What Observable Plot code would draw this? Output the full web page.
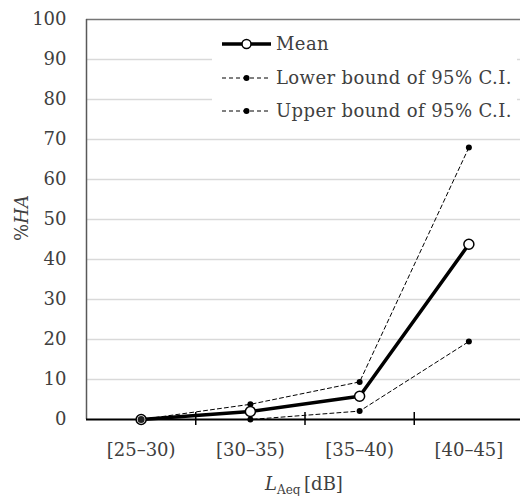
<!DOCTYPE html>
<html>
<head>
<meta charset="utf-8">
<script src="https://cdn.jsdelivr.net/npm/d3@7"></script>
<script src="https://cdn.jsdelivr.net/npm/@observablehq/plot@0.6"></script>
<style>
  html, body { margin: 0; padding: 0; background: #fff; overflow: hidden; }
  #chart { width: 520px; height: 496px; }
</style>
</head>
<body>
<div id="chart"></div>
<script>
const categories = ["[25\u201330)", "[30\u201335)", "[35\u201340)", "[40\u201345]"];
const meanValues = [0, 2, 5.8, 43.8];
const lowerValues = [0, 0, 2.1, 19.5];
const upperValues = [0, 3.8, 9.4, 68];
const yTicks = [0, 10, 20, 30, 40, 50, 60, 70, 80, 90, 100];
const gridTicks = [10, 20, 30, 40, 50, 60, 70, 80, 90];
const seriesNames = ["Mean", "Lower bound of 95% C.I.", "Upper bound of 95% C.I."];

const idx = categories.map((_, i) => i);
const boundaries = categories.slice(1).map((_, i) => i + 0.5);
const FONT = "DejaVu Serif";
const TXT = "#404040";

const chart = Plot.plot({
  width: 520,
  height: 496,
  marginTop: 19,
  marginBottom: 77,
  marginLeft: 86,
  marginRight: 0,
  style: { fontFamily: FONT, fontSize: "16px", color: TXT, background: "#fff" },
  x: { type: "linear", domain: [-0.5, categories.length - 0.5], range: [86, 523], axis: null },
  y: { domain: [0, 100], range: [419, 19], axis: null },
  marks: [
    Plot.ruleY(gridTicks, { stroke: "#d9d9d9", strokeWidth: 1.5 }),
    Plot.ruleY([100], { stroke: "#767676", strokeWidth: 1.5 }),
    Plot.ruleX([-0.5], { stroke: "#595959", strokeWidth: 1.5 }),
    Plot.axisY({ ticks: yTicks, tickSize: 0, tickPadding: 20, fontSize: 18, fill: TXT }),
    Plot.axisX({ ticks: idx, tickFormat: i => categories[i], tickSize: 0, tickPadding: 24, fontSize: 18, fill: TXT, style: { letterSpacing: "1.2px" } }),
    // bounds
    Plot.line(idx, { x: d => d, y: i => lowerValues[i], stroke: "#000", strokeWidth: 1, strokeDasharray: "4,3" }),
    Plot.line(idx, { x: d => d, y: i => upperValues[i], stroke: "#000", strokeWidth: 1, strokeDasharray: "4,3" }),
    Plot.dot(idx, { x: d => d, y: i => lowerValues[i], r: 3, fill: "#000" }),
    Plot.dot(idx, { x: d => d, y: i => upperValues[i], r: 3, fill: "#000" }),
    // x axis line and ticks
    Plot.ruleY([0], { stroke: "#000", strokeWidth: 2 }),
    Plot.ruleX(boundaries, { y1: 0, y2: 0, insetTop: -7, insetBottom: -6, stroke: "#000", strokeWidth: 1.5 }),
    // mean
    Plot.line(idx, { x: d => d, y: i => meanValues[i], stroke: "#000", strokeWidth: 3.5 }),
    Plot.dot(idx, { x: d => d, y: i => meanValues[i], r: 5, fill: "#fff", stroke: "#000", strokeWidth: 1.5 }),
    Plot.dot([0], { x: d => d, y: i => meanValues[i], r: 3.5, fill: "#222" })
  ]
});

document.getElementById("chart").appendChild(chart);

// Legend and axis titles
const svg = d3.select(chart);
const lg = svg.append("g").attr("font-family", FONT).attr("font-size", 18).attr("fill", TXT)
  .attr("text-anchor", "start").attr("letter-spacing", "0.4px");
lg.append("rect").attr("x", 212).attr("y", 27).attr("width", 305).attr("height", 98).attr("fill", "#fff");
const rows = [44, 78, 111];
seriesNames.forEach((name, k) => {
  const y = rows[k];
  if (k === 0) {
    lg.append("line").attr("x1", 222).attr("x2", 271).attr("y1", y).attr("y2", y)
      .attr("stroke", "#000").attr("stroke-width", 3.5);
    lg.append("circle").attr("cx", 246.5).attr("cy", y).attr("r", 4.5)
      .attr("fill", "#fff").attr("stroke", "#000").attr("stroke-width", 1.5);
  } else {
    lg.append("line").attr("x1", 222).attr("x2", 271).attr("y1", y).attr("y2", y)
      .attr("stroke", "#000").attr("stroke-width", 1).attr("stroke-dasharray", "4,3");
    lg.append("circle").attr("cx", 246.5).attr("cy", y).attr("r", 3).attr("fill", "#000");
  }
  lg.append("text").attr("x", 276).attr("y", y).attr("dy", "0.35em").text(name);
});

// x title
const xt = svg.append("text").attr("x", 304).attr("y", 490).attr("text-anchor", "middle")
  .attr("font-family", FONT).attr("font-size", 18).attr("fill", TXT);
xt.append("tspan").attr("font-style", "italic").text("L");
xt.append("tspan").attr("font-size", 12).attr("dy", 4).text("Aeq");
xt.append("tspan").attr("dy", -4).text("\u2009[dB]");

// y title
const yt = svg.append("text").attr("transform", "translate(28,218) rotate(-90)").attr("text-anchor", "middle")
  .attr("font-family", FONT).attr("font-size", 18).attr("fill", TXT);
yt.append("tspan").text("%");
yt.append("tspan").attr("font-style", "italic").text("HA");
</script>
</body>
</html>
